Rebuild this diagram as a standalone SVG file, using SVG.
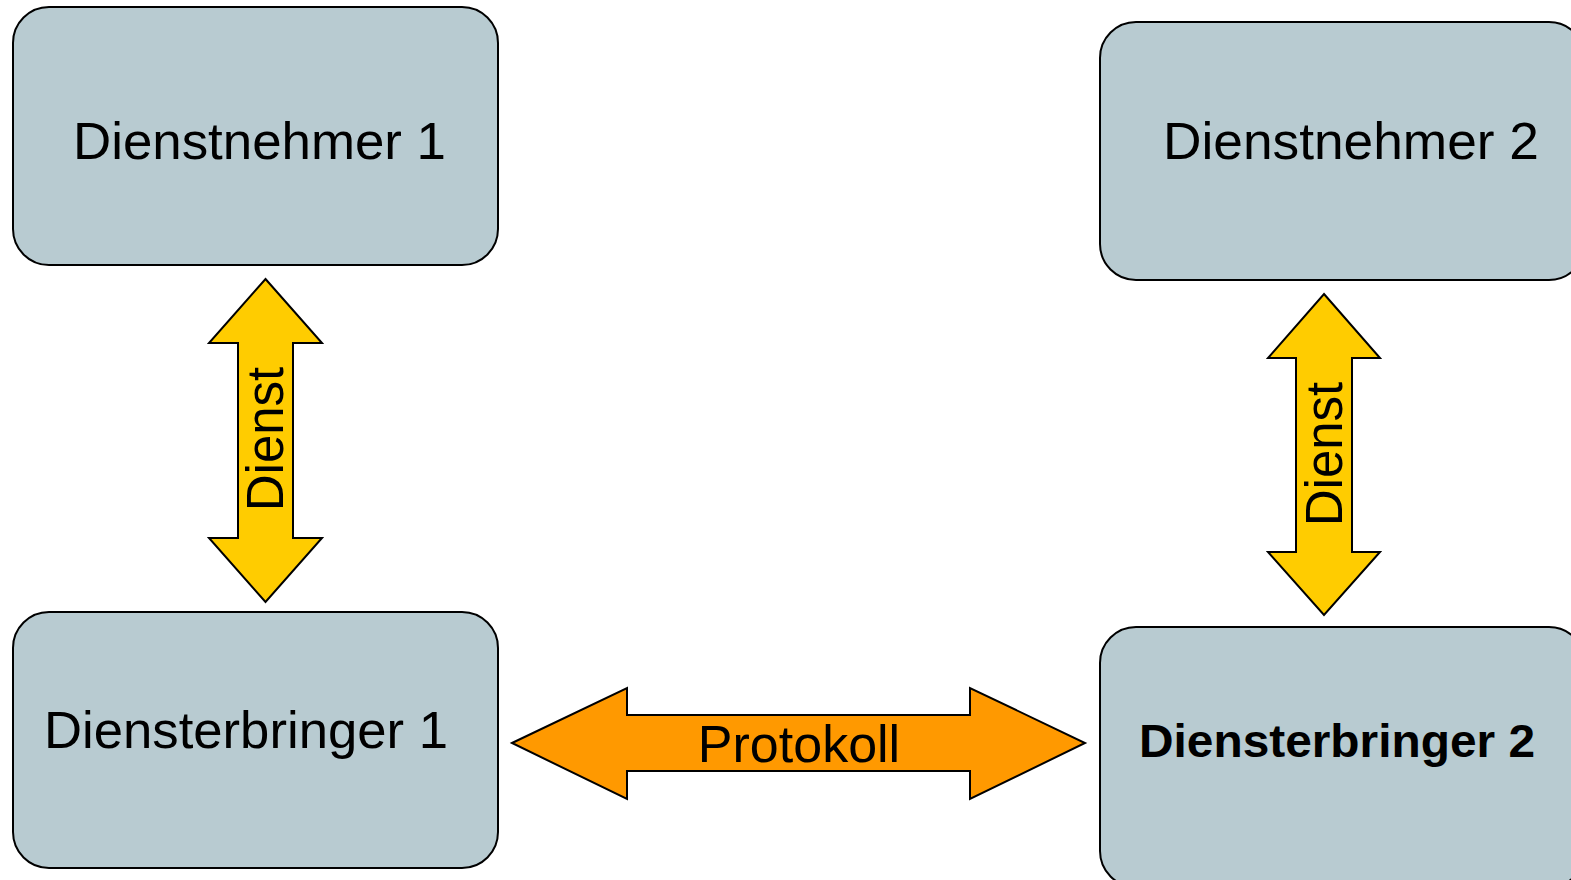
<svg xmlns="http://www.w3.org/2000/svg" width="1571" height="880" viewBox="0 0 1571 880">
<style>
.box{fill:#b8cbd1;stroke:#000;stroke-width:2}
.lbl{font-family:"Liberation Sans",Arial,sans-serif;font-size:52px;fill:#000}
.bold{font-weight:bold;font-size:47px}
.vert{font-size:51px}
.yarrow{fill:#ffcc00;stroke:#000;stroke-width:2;stroke-linejoin:miter}
.oarrow{fill:#ff9900;stroke:#000;stroke-width:2;stroke-linejoin:miter}
</style>
<rect width="1571" height="880" fill="#fff"/>
<g id="dienstnehmer1">
<rect class="box" x="13" y="7" width="485" height="258" rx="36" ry="36"/>
<text class="lbl" x="73" y="159" textLength="373" lengthAdjust="spacingAndGlyphs">Dienstnehmer 1</text>
</g>
<g id="dienstnehmer2">
<rect class="box" x="1100" y="22" width="485" height="258" rx="36" ry="36"/>
<text class="lbl" x="1163" y="159" textLength="376" lengthAdjust="spacingAndGlyphs">Dienstnehmer 2</text>
</g>
<g id="diensterbringer1">
<rect class="box" x="13" y="612" width="485" height="256" rx="36" ry="36"/>
<text class="lbl" x="44" y="748" textLength="404" lengthAdjust="spacingAndGlyphs">Diensterbringer 1</text>
</g>
<g id="diensterbringer2">
<rect class="box" x="1100" y="627" width="485" height="260" rx="36" ry="36"/>
<text class="lbl bold" x="1139" y="757" textLength="396" lengthAdjust="spacingAndGlyphs">Diensterbringer 2</text>
</g>
<g id="connectors">
<g id="dienst1">
<polygon class="yarrow" points="265.5,279 322,343 293,343 293,538 322,538 265.5,602 209,538 238,538 238,343 209,343"/>
<text class="lbl vert" text-anchor="middle" transform="translate(283,439) rotate(-90)">Dienst</text>
</g>
<g id="dienst2">
<polygon class="yarrow" points="1324,294 1380,358 1352,358 1352,552 1380,552 1324,615 1268,552 1296,552 1296,358 1268,358"/>
<text class="lbl vert" text-anchor="middle" transform="translate(1342,454) rotate(-90)">Dienst</text>
</g>
<g id="protokoll">
<polygon class="oarrow" points="512,743 627,688 627,715 970,715 970,688 1085,743 970,799 970,771 627,771 627,799"/>
<text class="lbl" x="799" y="762" text-anchor="middle">Protokoll</text>
</g>
</g>
</svg>
